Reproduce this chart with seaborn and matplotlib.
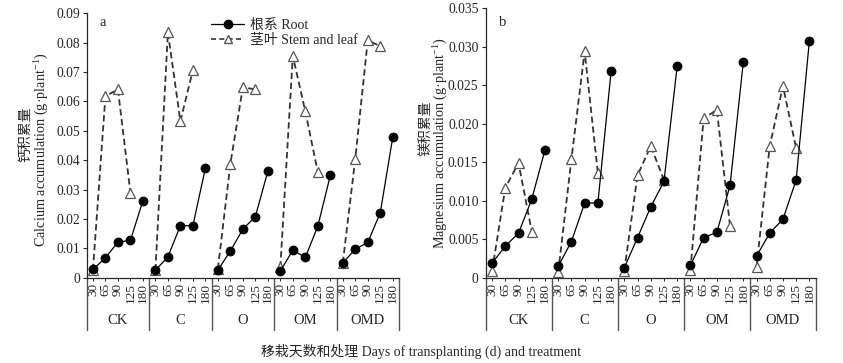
import numpy as np
import pandas as pd
import matplotlib
matplotlib.use("Agg")
import matplotlib.pyplot as plt
import matplotlib.transforms as mtransforms
from matplotlib.lines import Line2D
import seaborn as sns

treatments = ["CK", "C", "O", "OM", "OMD"]
days = ["30", "65", "90", "125", "180"]

# Panel a: calcium accumulation (g/plant)
ca_root = {
    "CK": [0.0028, 0.0068, 0.0121, 0.0127, 0.0262],
    "C": [0.0025, 0.0071, 0.0177, 0.0177, 0.0373],
    "O": [0.0026, 0.0091, 0.0165, 0.0208, 0.0362],
    "OM": [0.0022, 0.0094, 0.0069, 0.0175, 0.0348],
    "OMD": [0.0050, 0.0097, 0.0120, 0.0221, 0.0478],
}
ca_stem = {
    "CK": [0.0026, 0.0618, 0.0641, 0.0289],
    "C": [0.0025, 0.0835, 0.0533, 0.0706],
    "O": [0.0030, 0.0387, 0.0648, 0.0641],
    "OM": [0.0035, 0.0755, 0.0566, 0.0360],
    "OMD": [0.0050, 0.0405, 0.0808, 0.0788],
}
# Panel b: magnesium accumulation (g/plant)
mg_root = {
    "CK": [0.0019, 0.0041, 0.0058, 0.0102, 0.0166],
    "C": [0.0015, 0.0047, 0.0097, 0.0097, 0.0268],
    "O": [0.0013, 0.0052, 0.0092, 0.0125, 0.0275],
    "OM": [0.0016, 0.0052, 0.0059, 0.0120, 0.0280],
    "OMD": [0.0028, 0.0058, 0.0076, 0.0127, 0.0308],
}
mg_stem = {
    "CK": [0.0009, 0.0117, 0.0149, 0.0060],
    "C": [0.0007, 0.0154, 0.0294, 0.0136],
    "O": [0.0009, 0.0133, 0.0171, 0.0127],
    "OM": [0.0010, 0.0207, 0.0218, 0.0067],
    "OMD": [0.0014, 0.0171, 0.0249, 0.0168],
}

ca_yticks = [0, 0.01, 0.02, 0.03, 0.04, 0.05, 0.06, 0.07, 0.08, 0.09]
ca_ylabels = ["0", "0.01", "0.02", "0.03", "0.04", "0.05", "0.06", "0.07", "0.08", "0.09"]
mg_yticks = [0, 0.005, 0.010, 0.015, 0.020, 0.025, 0.030, 0.035]
mg_ylabels = ["0", "0.005", "0.010", "0.015", "0.020", "0.025", "0.030", "0.035"]

sns.set_style("ticks")
plt.rcParams["font.family"] = ["Liberation Serif", "Noto Sans CJK SC"]
plt.rcParams["axes.linewidth"] = 0.9
plt.rcParams["mathtext.fontset"] = "custom"
plt.rcParams["mathtext.rm"] = "Liberation Serif"
plt.rcParams["mathtext.it"] = "Liberation Serif:italic"
plt.rcParams["mathtext.bf"] = "Liberation Serif:bold"


def to_df(d):
    rows = []
    for gi, t in enumerate(treatments):
        for di, v in enumerate(d[t]):
            rows.append({"group": t, "pos": gi * len(days) + di, "val": v})
    return pd.DataFrame(rows)


fig = plt.figure(figsize=(8.43, 3.63), dpi=100)
W, H = 843, 363


def make_ax(left, right, top, bottom):
    return fig.add_axes([left / W, 1 - bottom / H, (right - left) / W, (bottom - top) / H])


ax_a = make_ax(86.7, 399, 13.3, 277.7)
ax_b = make_ax(485.5, 816, 8.3, 277.7)

npos = len(treatments) * len(days)


def draw(ax, root, stem, yticks, ylabels, ymax, top, letter):
    dr = to_df(root)
    ds = to_df(stem)
    sns.lineplot(data=ds, x="pos", y="val", units="group", estimator=None, ax=ax,
                 color="#333333", linestyle=(0, (3.5, 2)), linewidth=1.3,
                 marker="^", markersize=6.8, markerfacecolor="white",
                 markeredgecolor="#555555", markeredgewidth=0.9, zorder=3)
    sns.lineplot(data=dr, x="pos", y="val", units="group", estimator=None, ax=ax,
                 color="black", linewidth=0.9, marker="o", markersize=6.3,
                 markerfacecolor="black", markeredgecolor="black", zorder=4)
    ax.set_xlim(-0.5, npos - 0.5)
    ax.set_ylim(0, ymax)
    ax.set_yticks(yticks)
    ax.set_yticklabels(ylabels, fontsize=9.8)
    ax.set_xticks(range(npos))
    ax.set_xticklabels(days * len(treatments), rotation=90, fontsize=9.5)
    ax.tick_params(axis="x", length=2.5, width=0.7, pad=1.5)
    ax.tick_params(axis="y", length=3, width=0.8, pad=2)
    ax.set_xlabel("")
    ax.set_ylabel("")
    sns.despine(ax=ax)
    trans = mtransforms.blended_transform_factory(ax.transData, ax.transAxes)
    axh = 277.7 - top
    ybot = -(330 - 277.7) / axh
    ylab = -(321 - 277.7) / axh
    for gi in range(len(treatments) + 1):
        xb = gi * len(days) - 0.5
        ax.plot([xb, xb], [0, ybot], transform=trans, color="#555555",
                linewidth=1.0, clip_on=False)
    for gi, t in enumerate(treatments):
        xc = gi * len(days) + (len(days) - 1) / 2
        ax.text(xc, ylab, t, transform=trans, ha="center", va="center", fontsize=10.5)
    ax.text(0.5, 1 - (22 - top) / axh, letter, transform=trans, ha="left",
            va="center", fontsize=10.5)


draw(ax_a, ca_root, ca_stem, ca_yticks, ca_ylabels, 0.09, 13.3, "a")
draw(ax_b, mg_root, mg_stem, mg_yticks, mg_ylabels, 0.035, 8.3, "b")

# y labels (two lines)
fig.text(25 / W, 1 - 134 / H, "钙积累量", rotation=90, ha="center", va="center",
         fontsize=10, family=["Noto Sans CJK SC"])
fig.text(42 / W, 1 - 150 / H, "Calcium accumulation (g·plant$^{-1}$)", rotation=90,
         ha="center", va="center", fontsize=10.3)
fig.text(425 / W, 1 - 128 / H, "镁积累量", rotation=90, ha="center", va="center",
         fontsize=10, family=["Noto Sans CJK SC"])
fig.text(441 / W, 1 - 143 / H, "Magnesium accumulation (g·plant$^{-1}$)", rotation=90,
         ha="center", va="center", fontsize=10.2)

fig.text(421 / W, 1 - 351 / H, "移栽天数和处理 Days of transplanting (d) and treatment",
         ha="center", va="center", fontsize=10)

handles = [
    Line2D([], [], color="black", linewidth=0.9, marker="o", markersize=6,
           markerfacecolor="black"),
    Line2D([], [], color="#333333", linestyle=(0, (3, 2)), linewidth=1.2, marker="^",
           markersize=6, markerfacecolor="white", markeredgecolor="#555555"),
]
ax_a.legend(handles, ["根系 Root", "茎叶 Stem and leaf"], loc="upper left",
            bbox_to_anchor=((211 - 86.7) / (399 - 86.7), 1 - (19 - 13.3) / (277.7 - 13.3)),
            frameon=False, fontsize=10,
            handlelength=2.4, handletextpad=0.4, labelspacing=0.15, borderpad=0.0,
            borderaxespad=0.0)

fig.savefig("out.png", dpi=100)
